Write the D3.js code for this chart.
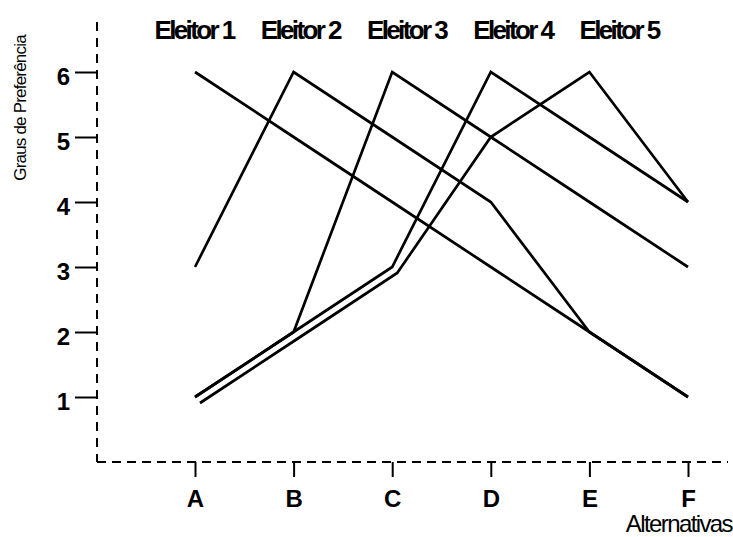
<!DOCTYPE html>
<html>
<head>
<meta charset="utf-8">
<script src="https://cdn.jsdelivr.net/npm/d3@7"></script>
<style>
  html, body { margin: 0; padding: 0; background: #fff; }
  svg { display: block; }
  text { font-family: "Liberation Sans", Arial, sans-serif; fill: #000; }
</style>
</head>
<body>
<svg id="chart" width="733" height="537"></svg>
<script>
// Alternatives on the horizontal axis
const alternativas = ["A", "B", "C", "D", "E", "F"];
// Preference levels on the vertical axis
const graus = [1, 2, 3, 4, 5, 6];
// Voter names shown across the top
const eleitores = ["Eleitor 1", "Eleitor 2", "Eleitor 3", "Eleitor 4", "Eleitor 5"];

// Preference of each voter for alternatives A..F
const eleitor1 = [6, 5, 4, 3, 2, 1];
const eleitor2 = [3, 6, 5, 4, 2, 1];
const eleitor3 = [1, 2, 6, 5, 4, 3];
const eleitor4 = [1, 2, 3, 6, 5, 4];
const eleitor5 = [1, 2, 3, 5, 6, 4];
const series = [eleitor1, eleitor2, eleitor3, eleitor4, eleitor5];

const svg = d3.select("#chart");

const x = d3.scalePoint().domain(alternativas).range([195, 688]);
const y = d3.scaleLinear().domain([1, 6]).range([397, 72]);
const xTitle = d3.scalePoint().domain(eleitores).range([194, 619]);

const axisX = 97, axisY = 462;

// Dashed axis lines
svg.append("line")
  .attr("x1", axisX).attr("x2", axisX)
  .attr("y1", 22).attr("y2", axisY)
  .attr("stroke", "#000").attr("stroke-width", 2)
  .attr("stroke-dasharray", "9,7");
svg.append("line")
  .attr("x1", axisX).attr("x2", 728)
  .attr("y1", axisY).attr("y2", axisY)
  .attr("stroke", "#000").attr("stroke-width", 2)
  .attr("stroke-dasharray", "9,6");

// Vertical axis ticks and labels
const yAxis = d3.axisLeft(y).tickValues(graus).tickSize(22).tickPadding(5).tickFormat(d3.format("d"));
const gy = svg.append("g").attr("transform", `translate(${axisX},0)`).call(yAxis);
gy.select(".domain").remove();
gy.selectAll(".tick line").attr("stroke", "#000").attr("stroke-width", 2);
gy.selectAll(".tick text")
  .attr("font-size", 24).attr("font-weight", "bold")
  .attr("font-family", "'Liberation Sans', Arial, sans-serif")
  .attr("dy", "0.5em");

// Horizontal axis ticks and labels
const xAxis = d3.axisBottom(x).tickSize(15).tickPadding(13);
const gx = svg.append("g").attr("transform", `translate(0,${axisY})`).call(xAxis);
gx.select(".domain").remove();
gx.selectAll(".tick line").attr("stroke", "#000").attr("stroke-width", 2);
gx.selectAll(".tick text")
  .attr("font-size", 24).attr("font-weight", "bold")
  .attr("font-family", "'Liberation Sans', Arial, sans-serif");

// Axis titles
svg.append("text")
  .attr("x", 732).attr("y", 532)
  .attr("text-anchor", "end")
  .attr("font-size", 24)
  .attr("letter-spacing", "-1.6")
  .text("Alternativas");

svg.append("text")
  .attr("transform", "translate(26,108) rotate(-90)")
  .attr("text-anchor", "middle")
  .attr("font-size", 17)
  .attr("letter-spacing", "-0.8")
  .text("Graus de Preferência");

// Voter names
svg.append("g").selectAll("text")
  .data(eleitores)
  .join("text")
  .attr("x", d => xTitle(d))
  .attr("y", 39)
  .attr("text-anchor", "middle")
  .attr("font-size", 26)
  .attr("font-weight", "bold")
  .attr("letter-spacing", "-2.6")
  .text(d => d);

// Where a voter's path repeats an earlier voter's point, shift it a little so both remain visible
const line = d3.line().x(p => p[0]).y(p => p[1]);
series.forEach((vals, si) => {
  const pts = vals.map((v, i) => {
    let px = x(alternativas[i]), py = y(v);
    if (si === 4 && i <= 2 && vals[i] === series[3][i]) { px += 5; py += 6; }
    return [px, py];
  });
  svg.append("path")
    .attr("d", line(pts))
    .attr("fill", "none")
    .attr("stroke", "#000")
    .attr("stroke-width", 2.7)
    .attr("stroke-linejoin", "miter");
});
</script>
</body>
</html>
